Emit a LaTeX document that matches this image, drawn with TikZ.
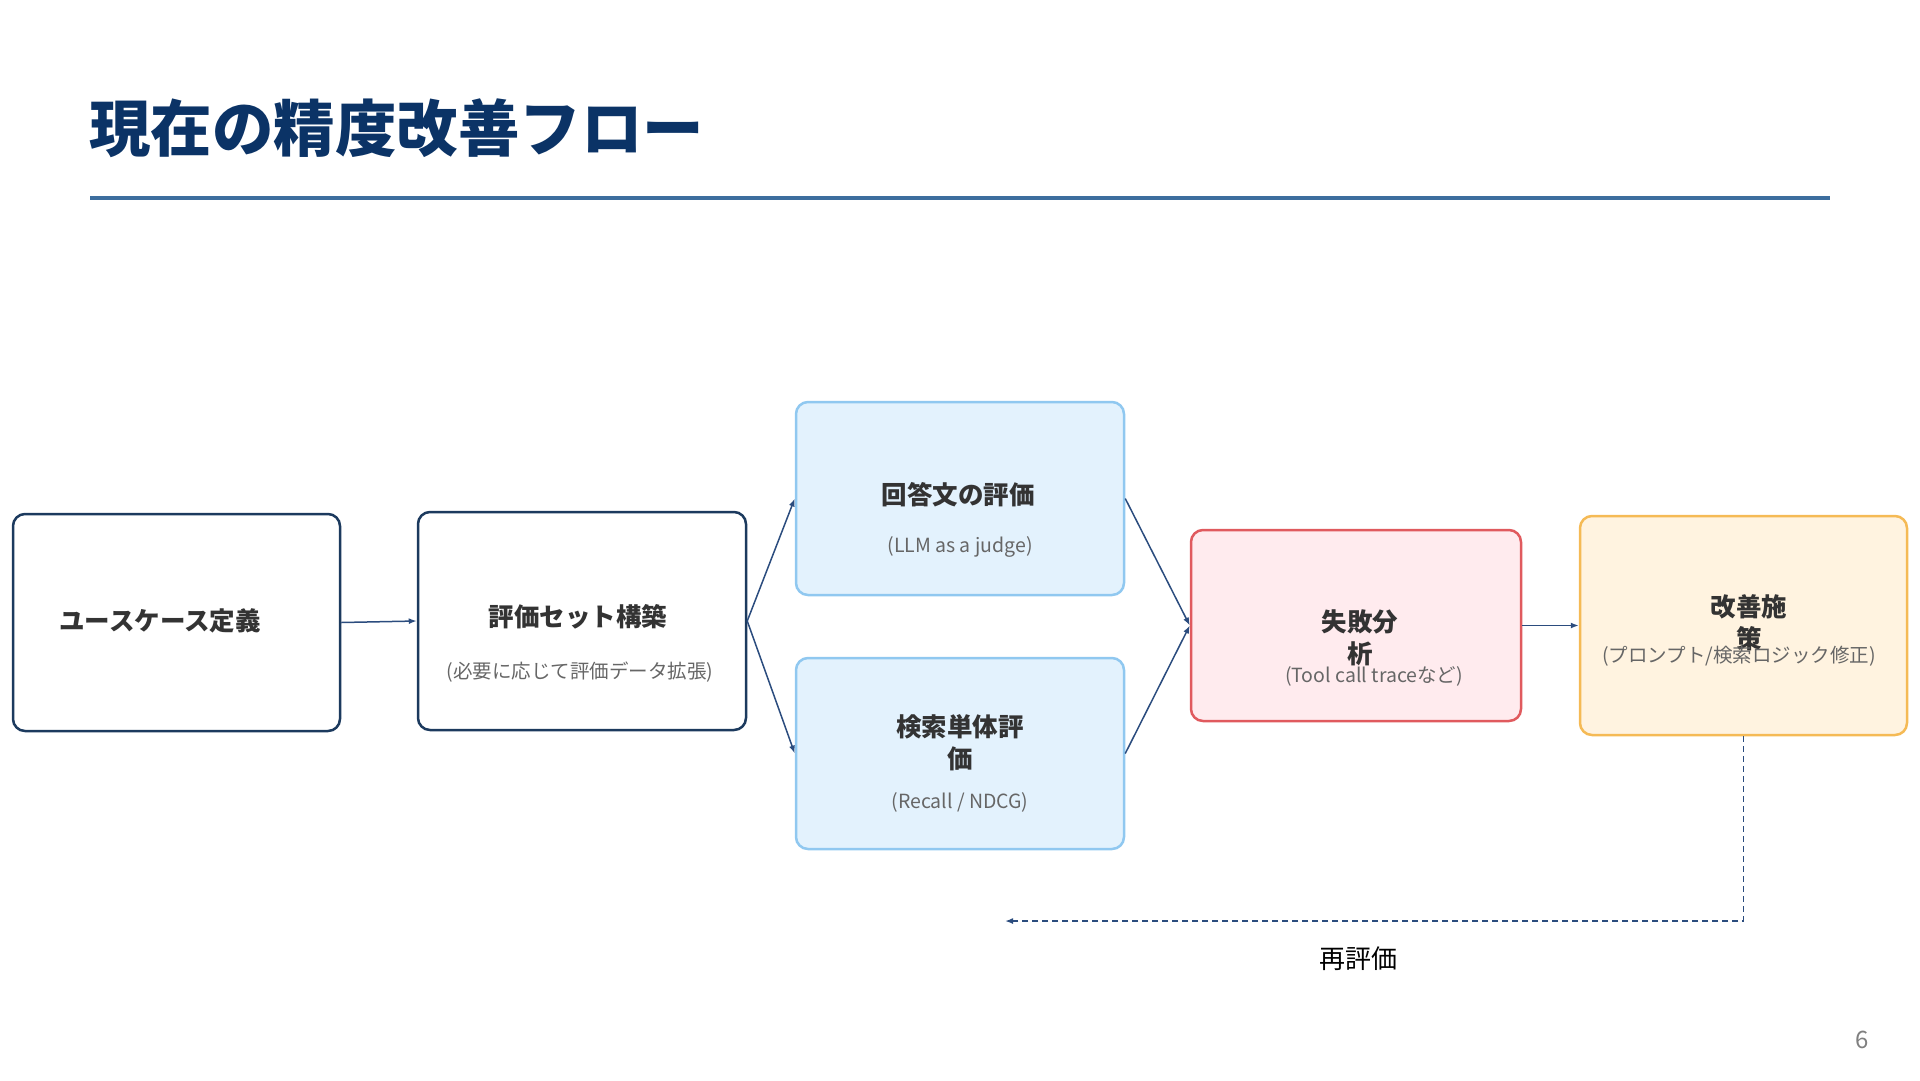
\documentclass[tikz,border=0pt]{standalone}
\usepackage{fontspec}
\setmainfont{Noto Sans CJK JP}
\usepackage{xcolor}
\usepackage{tikz}
\usetikzlibrary{positioning, arrows.meta}
\definecolor{navy}{HTML}{0B3366}
\definecolor{rulecol}{HTML}{3D6E9E}
\definecolor{boxline}{HTML}{1C3A5E}
\definecolor{arrowcol}{HTML}{2B4C7E}
\definecolor{bluefill}{HTML}{E3F2FD}
\definecolor{blueline}{HTML}{90C8F0}
\definecolor{redfill}{HTML}{FFEBEE}
\definecolor{redline}{HTML}{E05A5E}
\definecolor{orangefill}{HTML}{FFF3E0}
\definecolor{orangeline}{HTML}{F5BA55}
\definecolor{headtext}{HTML}{333333}
\definecolor{subtext}{HTML}{666666}

\begin{document}
\begin{tikzpicture}[x=1pt, y=-1pt,
  card/.style={draw, line width=2.5pt, rounded corners=12pt, inner sep=0pt},
  head/.style={text=headtext, font=\fontsize{25.5}{32}\selectfont\bfseries, align=center, inner sep=0pt},
  sub/.style={text=subtext, font=\fontsize{19.5}{24}\selectfont, inner sep=0pt},
  flow/.style={-{Latex[length=8pt, width=6pt]}, arrowcol, line width=1.5pt}]
\useasboundingbox (0,0) rectangle (1920,1080);
\node[anchor=west, text=navy, font=\fontsize{61.5}{66}\selectfont\bfseries, inner sep=0pt] (title) at (89,128) {現在の精度改善フロー};
\draw[rulecol, line width=4pt] (90,198) -- (1830,198);
\node[card, boxline, fill=white, minimum width=327pt, minimum height=217pt] (usecase) at (176.5,622.5) {};
\node[card, boxline, fill=white, minimum width=328pt, minimum height=218pt] (evalset) at (582,621) {};
\node[card, blueline, fill=bluefill, minimum width=328pt, minimum height=193pt] (answer) at (960,498.5) {};
\node[card, blueline, fill=bluefill, minimum width=328pt, minimum height=191pt] (search) at (960,753.5) {};
\node[card, redline, fill=redfill, minimum width=330pt, minimum height=191pt] (failure) at (1356,625.5) {};
\node[card, orangeline, fill=orangefill, minimum width=327pt, minimum height=219pt] (improve) at (1743.5,625.5) {};
\node[head] (usecasehead) at (160,621) {ユースケース定義};
\node[head] (evalsethead) at (578,617) {評価セット構築};
\node[sub] (evalsetsub) at (580,672) {(必要に応じて評価データ拡張)};
\node[head] (answerhead) at (958,495) {回答文の評価};
\node[sub] (answersub) at (960,547) {(LLM as a judge)};
\node[head] (searchhead) at (960,742.5) {検索単体評\\価};
\node[sub] (searchsub) at (960,802) {(Recall / NDCG)};
\node[head] (failurehead) at (1360,637.5) {失敗分\\析};
\node[sub] (failuresub) at (1374,676) {(Tool call traceなど)};
\node[head] (improvehead) at (1749,622.5) {改善施\\策};
\node[sub] (improvesub) at (1739,656) {(プロンプト/検索ロジック修正)};
\draw[flow] (usecase.east) -- (evalset.west);
\draw[flow] (evalset.east) -- (answer.west);
\draw[flow] (evalset.east) -- (search.west);
\draw[flow] (answer.east) -- (failure.west);
\draw[flow] (search.east) -- (failure.west);
\draw[flow] (failure.east) -- (improve.west);
\coordinate (reeval) at (1005,921);
\draw[flow, dashed, line width=1.5pt, dash pattern=on 6pt off 4pt] (improve.south) |- (reeval);
\node[font=\fontsize{26}{30}\selectfont, inner sep=0pt] (reevallabel) at (1358,959) {再評価};
\node[text=gray, font=\fontsize{24}{28}\selectfont, inner sep=0pt] (pagenum) at (1862,1040) {6};
\end{tikzpicture}
\end{document}
